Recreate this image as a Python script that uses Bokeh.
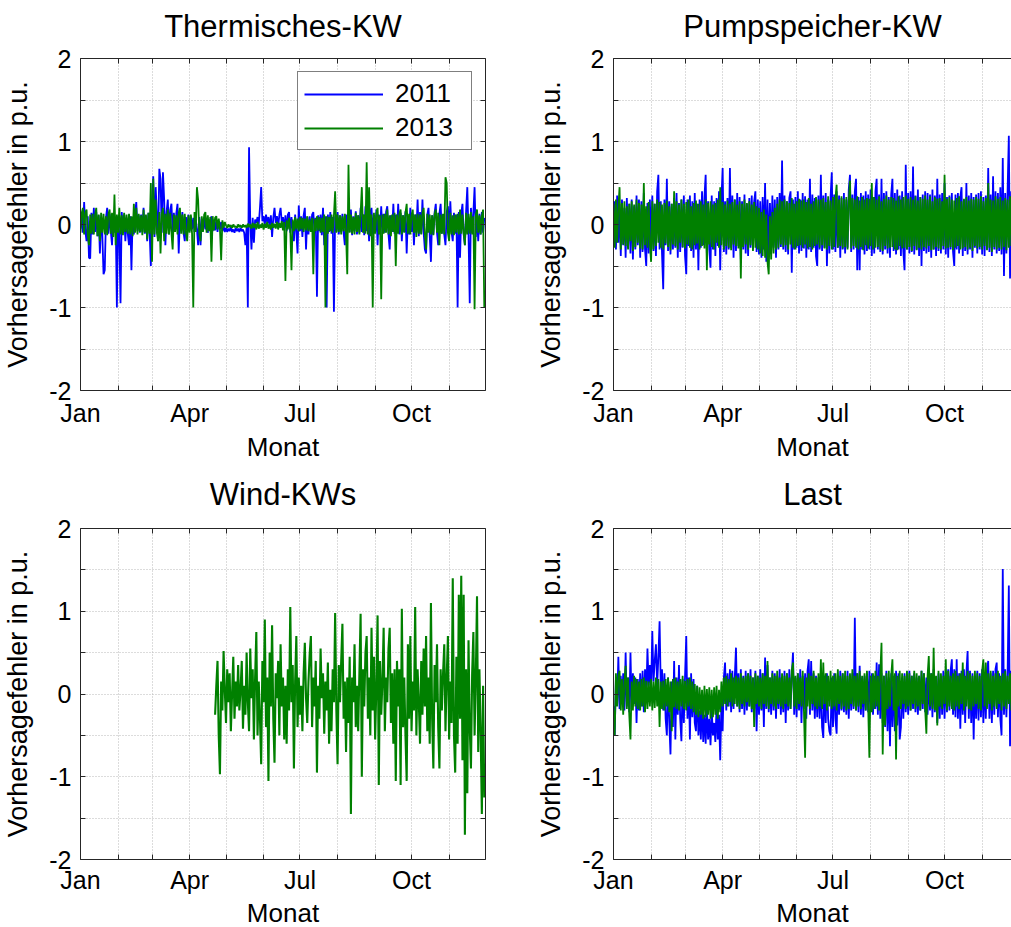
from bokeh.plotting import figure
from bokeh.models import Range1d, FixedTicker, LinearAxis, Legend, LegendItem
from bokeh.layouts import gridplot
from bokeh.embed import file_html
from bokeh.resources import INLINE

# ---------------- data (values in 1/100 p.u., one value per day) ----------------
month_starts = [0, 31, 59, 90, 120, 151, 181, 212, 243, 273, 304]
month_names = {0: "Jan", 90: "Apr", 181: "Jul", 273: "Oct"}
y_ticks = [-2, -1.5, -1, -0.5, 0, 0.5, 1, 1.5, 2]
y_names = {-2: "-2", -1: "-1", 0: "0", 1: "1", 2: "2"}
series_labels = ["2011", "2013"]

thermisch_2011 = [
    -5, 12, -10, 27, -8, -20, 10, -40, -41, 14,
    -12, 20, -9, 15, -14, 11, -35, 9, -13, -60,
    -55, 8, 20, -11, 13, -8, -25, 12, -10, 9,
    -100, 10, -12, -95, 15, -9, 12, -20, 8, -11,
    -25, 10, -55, 9, -12, 13, 27, -8, 11, -10,
    12, -9, 20, -11, 10, -20, 14, -8, -50, 20,
    58, -15, 45, 12, -20, 67, 55, -10, 63, 30,
    -25, 15, 30, -12, 18, 25, -10, 14, -9, 13,
    25, -35, 11, -8, 15, -10, -20, 9, -7, 12,
    -8, 10, -6, 8, -9, 7, -5, -25, 9, -25,
    7, -8, 9, -6, 8, -10, 6, -7, 10, -8,
    6, -7, 5, -9, 4, -6, 3, -8, -2, -9,
    -4, -9, -5, -8, -3, -9, -6, -10, -4, -8,
    -5, -9, -4, -8, -6, -10, -25, -3, -100, 93,
    3, -30, 8, -22, 6, 2, 9, 0, 20, 45,
    4, 10, 0, 12, 2, 9, -3, 11, -15, 8,
    20, 2, 10, -4, 12, 20, 3, 9, -6, 11,
    -8, 12, 15, -10, 9, -7, -20, 12, -9, -35,
    23, -8, 10, -15, 11, 20, -30, 9, -12, 10,
    -9, 12, 15, -10, 8, -87, 11, -8, 12, -13,
    20, -25, 10, -100, 12, -9, 15, -11, 9, -105,
    10, -8, 15, -12, 11, -9, 13, -10, -25, 12,
    -11, 14, -9, 18, -13, 10, -8, 16, -12, 11,
    -10, 20, -9, 12, -13, 22, -8, 11, -20, 14,
    20, -12, 10, -9, 18, -25, 12, -10, 22, -11,
    13, -10, 15, 22, -12, -30, 11, -9, 25, -11,
    12, -10, 25, -12, 14, -20, 11, -9, 16, -35,
    10, -12, 20, -9, 13, -25, 12, -10, 30, -14,
    15, -11, 30, -10, -30, -35, 12, 20, -13, -45,
    11, -12, 14, 25, -10, -25, 13, 25, -11, 12,
    -12, -25, 15, 22, -10, 28, -9, -20, 14, -11,
    12, -100, 15, -40, 13, 25, -12, -25, 16, 45,
    -12, -95, 20, -10, 14, 45, -15, 12, -20, 13,
    -12, 15, -10, 8,
]

thermisch_2013 = [
    -10, 14, 20, -12, 15, 18, -13, -25, 12, -11,
    13, -12, 11, 20, -14, 12, -20, 14, -10, 13,
    -12, 10, -13, 12, 18, -11, 14, -15, 36, -25,
    12, -10, 20, -12, 11, -13, 14, -9, 12, -11,
    13, -12, 10, -14, 25, -10, 20, -12, 13, -9,
    11, -13, 18, -10, 12, -18, 14, -11, 50, -45,
    55, -12, 30, -10, -20, 15, -35, 12, 20, -20,
    13, -11, 18, -12, 14, -10, -30, 12, -9, 11,
    -12, 14, 20, -11, 12, -12, 13, -10, -20, 11,
    -10, 12, -11, -100, 15, -9, 45, 30, -12, -20,
    10, -9, 12, 15, -10, 11, -8, 9, -45, 10,
    -7, 8, 10, -6, 7, -5, -43, 5, -4, 3,
    -1, -4, 0, -3, -1, -4, 0, -3, -2, -4,
    0, -3, -1, -4, 0, -3, -1, -4, 1, -3,
    0, -5, 2, -4, 1, -6, 3, -5, 0, -4,
    2, -6, 1, -4, 3, -5, 0, -6, 2, -4,
    1, -5, 3, -6, 2, -4, 4, -7, 3, -68,
    5, -6, 8, -7, -55, 6, -8, 9, -6, 7,
    -8, 9, -6, 8, -9, 7, -7, 10, -8, 6,
    -9, 8, -60, 7, -8, 10, -7, 9, -10, 8,
    -9, 12, -100, 10, -11, 9, -8, 12, -10, 11,
    40, -10, 12, -9, 11, -12, 10, -8, 13, -11,
    -60, 72, -10, 12, -11, 9, -12, 14, -9, 11,
    -12, 13, 45, -10, 12, -11, 75, -12, 45, -14,
    12, -100, 14, -11, 13, 20, -12, 11, -90, 12,
    -11, 13, -10, 18, -12, 11, -14, 12, -9, 14,
    -50, 12, -11, 13, 18, -12, 11, -10, 14, 25,
    -11, 13, -12, 11, 18, -10, 12, -15, 13, -11,
    12, -12, 14, 20, -11, -30, 13, -10, 12, -12,
    11, -13, 12, 18, -10, 14, -25, 12, -11, 13,
    -12, 57, 50, -10, -20, 14, -12, 11, -13, 12,
    -10, 13, -12, 18, -11, 12, -10, -25, 14, -12,
    13, -11, 15, -12, 10, -102, 12, 18, -10, 11,
    -12, 10, 18, -100,
]

pump_2011 = [
    -20, 28, -30, 35, -22, 25, -38, 30, -25, 20,
    -40, 32, -28, 25, -35, 30, -42, 22, -30, 35,
    -25, 30, -40, 28, -33, 38, -30, -50, 26, -35,
    30, -28, 35, -32, 25, -38, 40, 60, -30, 28,
    -35, -78, 30, -25, 55, -32, 28, -36, 25, -30,
    32, -28, 38, -40, 26, -33, 30, -28, 35, -38,
    -60, 30, -26, 35, -32, 28, -40, 38, -30, 25,
    -55, 30, -28, 40, -25, 33, 60, -35, 28, -30,
    -52, 35, -30, 28, -38, 32, -26, 40, -55, 30,
    68, -33, 28, -36, 32, -30, 68, -28, 35, -40,
    30, -32, 38, -26, 33, -42, 28, -30, 36, -35,
    25, -38, 32, -28, 35, -30, 28, 40, -33, 30,
    -36, 28, -40, 33, -30, 50, -45, 30, -38, 26,
    -32, 35, -28, 30, -40, 33, -30, 38, -27, 77,
    -30, 35, -33, 28, -36, 32, 40, -58, 30, -30,
    33, -28, 40, -35, 30, -32, 38, -29, 34, -40,
    30, -30, 55, -33, 36, -28, 32, -38, -50, 35,
    -30, 60, -32, 35, -28, 38, -50, 30, -35, 33,
    63, -30, 36, -33, 40, -28, 35, -40, 32, -30,
    38, -35, 30, -28, 42, 60, -33, 36, -30, 40,
    55, -55, 33, -55, 38, -30, 35, -36, 40, -32,
    36, -30, 42, -38, 33, -35, 40, 55, -30, 36,
    -33, 55, -36, 38, -30, 40, -35, 33, -40, 36,
    55, -32, 38, -36, 42, -30, 35, -38, 40, -33,
    -55, 72, -30, 38, -35, 40, -33, 70, -36, 35,
    -30, 42, -38, 33, -50, 36, -32, 40, -35, 38,
    -33, 36, -40, 42, -30, 35, -38, 55, -32, 36,
    -35, 38, -30, 50, -36, 33, -40, 35, -30, 38,
    -33, -50, 36, -30, 38, -35, 33, 45, -38, 30,
    -32, 50, -36, 35, -30, 38, -40, 33, -28, 36,
    -35, 38, -30, 40, -36, 33, -38, 35, -30, 68,
    -33, 36, -38, 58, -30, 40, -35, 38, -32, 45,
    -36, 80, -62, 38, -35, 42, 107, -65, 40, -35,
    38, -40, 33, -30,
]

pump_2013 = [
    25, -28, 30, -22, 20, 45, -30, 26, -24, 28,
    -26, 22, -30, 25, -20, 28, -32, 24, -27, 30,
    -22, 26, -29, 24, -30, 50, -25, 22, -28, 27,
    -24, -45, 28, -30, 25, -26, 30, -22, 27, -28,
    24, -30, 26, -23, 29, -27, 22, -31, 25, -24,
    40, -26, 28, -30, 24, -22, 30, -27, 25, -29,
    27, -24, 30, -28, 22, -30, 26, -25, 29, -23,
    25, -30, 28, -26, 24, -29, 30, -55, 26, -24,
    28, -27, 24, -30, 26, -22, 30, -28, 45, -25,
    27, -30, 24, -26, 29, -28, 25, -31, 27, -24,
    30, -26, 24, -29, 28, -65, 25, -27, 30, -24,
    26, -30, 28, -25, 24, -32, 27, -28, 22, -30,
    20, -35, 15, -38, 18, -40, 12, -45, -60, 10,
    -42, 15, -35, 20, -30, 25, -28, 30, -24, 28,
    -27, 30, -25, 28, -30, 26, -24, 32, -28, 25,
    -30, 28, -26, 31, -25, 29, -28, 30, -24, 27,
    -29, 32, -27, 25, -30, 28, -26, 33, -24, 30,
    -28, 30, -25, 32, -29, 27, -30, 34, -26, 29,
    -30, 33, -27, 31, 48, -28, 30, -26, 34, -29,
    31, -27, 33, -30, 28, 53, -29, 32, -26, 30,
    -28, 34, -30, 29, -27, 33, -31, 30, -25, 32,
    -29, 31, -26, 50, -30, 33, -28, 30, -27, 34,
    -30, 28, -32, 31, -26, 35, -29, 30, -28, 33,
    -27, 32, -30, 29, -31, 34, -26, 30, -29, 33,
    -28, 35, -30, 31, -27, 33, -32, 30, -26, 34,
    -31, 29, -28, 33, -30, 31, -27, 35, -29, 30,
    -26, 34, -31, 28, -30, 33, -27, 31, -29, 32,
    -30, 28, -26, 60, -29, 31, -28, 33, -27, 30,
    -31, 29, -28, 32, -26, 34, -30, 28, -29, 31,
    -27, 33, -30, 29, -28, 31, -32, 30, -26, 33,
    -29, 31, -27, 34, -30, 28, -26, 32, -31, 50,
    -28, 30, -33, 29, -27, 34, -30, 31, -28, 33,
    -30, 29, -27, 32, -31, 30, -28, 34, -26, 31,
    -29, 33, -30, 28,
]

wind_start_day = 111
wind_2013 = [
    -25, 10, 40, -50, -97, 15, -20, 52, 5, -35,
    30, -10, 25, -45, 0, 45, -30, 15, -15, 35,
    -20, 5, 40, -42, 10, -25, 50, -10, -45, 55,
    -5, 30, -55, 20, 75, -50, 15, -30, -85, 40,
    -10, 90, -40, 20, -105, 50, -15, 83, -30, -83,
    25, -5, 40, -50, 60, -15, 20, -55, 10, -60,
    30, -20, 105, -10, 35, -90, 15, 70, -40, 20,
    -25, 10, -45, 25, 62, -5, -35, 15, 48, 70,
    -40, 20, -15, 40, -95, 10, -30, 55, -5, 25,
    -48, 15, -20, 38, -60, 5, -45, 30, -10, 98,
    -20, -85, 35, -10, 40, 85, -30, 15, -70, 20,
    -35, 45, -145, 20, -10, 60, -40, 10, -45, 25,
    97, -100, 30, -15, 50, 70, -30, 20, -50, 80,
    -20, 45, -55, 10, 95, -110, 40, -25, 15, 80,
    -45, 20, -10, 55, 80, -35, 25, -60, 30, -105,
    40, -15, 30, -110, 103, -40, 20, -50, -105, 60,
    -30, 70, -45, 15, -20, 105, -50, 30, -10, -60,
    40, -25, 55, -15, 70, -45, 20, -60, 110, -30,
    -90, 35, -10, 60, -40, -90, 30, -20, 25, 60,
    -45, 20, 70, -55, 15, -35, 140, -50, -95, 45,
    -60, 120, -30, 143, -80, 120, -170, 30, -120, 65,
    -40, -90, 25, 75, -50, 20, 118, -70, 30, -45,
    -145, 10, -125,
]

last_2011 = [
    -15, -50, 20, -12, 45, -18, 22, -10, 25, -20,
    50, -15, 20, -22, 50, -18, 25, -12, 20, -35,
    18, -20, 25, -15, 28, -22, 30, -8, 55, 10,
    35, 5, 76, 15, 40, 60, 10, 45, 88, 5,
    30, -20, 25, -30, -50, 20, -35, -73, 15, -40,
    40, -55, 20, -25, 35, -30, -57, 18, -35, 22,
    70, -30, 20, -55, 25, -28, 18, -35, -45, 10,
    -50, -20, -55, -10, -58, -25, -60, -15, -55, -30,
    -62, -20, -50, -35, -58, -15, -55, -25, -80, -10,
    -45, 20, 38, -20, 25, -15, 30, -22, 28, -18,
    20, 56, -15, 25, -22, 30, -18, 22, -25, 28,
    -20, 25, -15, 30, -22, 20, -18, 28, -45, 22,
    -25, 30, -20, 25, -40, 44, -18, 35, -22, 20,
    -25, 28, -20, 25, -30, 22, -18, 30, -25, 20,
    -22, 28, -35, 25, -20, 30, -18, 22, 50, -25,
    20, -28, 25, -20, 30, -35, 22, -18, 25, -30,
    28, 42, -25, 40, -20, 25, -30, 22, -28, 20,
    -30, 25, -40, -53, 22, -35, 25, -30, -45, -50,
    20, -40, 25, -30, -48, 22, -25, 28, -20, 25,
    -22, 20, -25, 28, -30, 22, -20, 25, -18, 92,
    -20, 25, -22, 34, -25, 20, -28, 22, -20, 25,
    -22, 28, -20, 25, -25, 22, -18, 38, -25, 36,
    -30, 25, -35, 22, -40, 28, -45, 20, -63, 25,
    -40, 22, -45, 28, -38, 25, -55, -40, 20, -30,
    25, -22, 20, -25, 28, -20, 22, -18, 25, -22,
    20, -25, 22, -20, 28, -18, 25, -22, 20, -25,
    22, -20, 25, -28, 30, -22, 20, -35, 25, -30,
    22, -25, 28, -30, 25, -22, 30, -20, 28, 42,
    -25, 30, -28, 42, -30, 25, -42, 28, -25, 30,
    -35, 25, 52, -30, 28, -35, 25, -55, 22, -30,
    28, -32, 25, -28, 30, -35, 22, -30, 28, 40,
    -30, 25, -35, 28, -25, 30, 38, -28, 25, -30,
    -50, 151, -25, 30, -28, 25, 131, -63, 28, -30,
    25, -28, 30, -22,
]

last_2013 = [
    -20, -50, 25, -15, 22, 28, -20, 18, -25, 15,
    34, -18, 20, -25, -55, 15, -20, 22, -15, 18,
    -18, 15, -20, 18, -15, 20, -22, 16, -18, 15,
    -15, 18, -20, 15, -17, 20, -15, 18, -40, 15,
    -18, 16, -20, 18, -15, 20, -22, 15, -45, 18,
    -16, 20, -18, 15, -20, 18, -15, 22, -18, 16,
    -20, 18, -15, 20, -18, 15, -22, 12, -25, 10,
    -28, 8, -25, 5, -30, 10, -28, 6, -25, 8,
    -30, 5, -28, 8, -25, 10, -30, 5, -22, 15,
    -15, 20, -12, 22, -15, 18, -10, 25, -15, 20,
    -12, 22, -15, 20, -18, 25, -12, 20, -15, 22,
    -10, 25, -15, 22, -18, 20, -40, 25, -12, 22,
    -15, 20, -18, 25, -12, 22, -15, 40, -18, 20,
    -12, 25, -15, 22, -18, 28, -12, 20, -15, 25,
    -18, 22, -12, 25, -15, 20, -18, 28, 38, -15,
    22, -18, 25, -12, 20, -15, 28, -18, -77, 20,
    -15, 25, -18, 22, -12, 28, -15, 20, -18, 25,
    -15, 42, -18, 38, -12, 25, -20, 22, -15, 28,
    -18, 22, -15, 25, -20, 30, -12, 22, -18, 25,
    -15, 28, -20, 22, -18, 25, -12, 30, -15, 22,
    -20, 25, -15, 28, -18, 22, -12, 25, -20, 28,
    -15, -77, 22, -22, 25, -18, 28, -15, 22, -20,
    25, 62, -73, 22, -38, 25, -18, 28, -15, 22,
    42, -20, 25, -79, 22, -15, 28, -18, 25, -12,
    22, -18, 28, -15, 25, -20, 22, -12, 28, -18,
    25, -15, 22, -20, 28, -12, 25, -18, -48, 22,
    46, -15, 25, -18, 56, -20, 22, -38, 28, -15,
    25, -18, 22, -12, 42, -20, 28, -15, 22, -18,
    25, -20, 28, -15, 22, -18, 25, -12, 38, -20,
    22, -15, 28, -18, 25, -20, 22, -15, 28, -12,
    25, -18, 22, -20, 28, 42, -15, 38, -18, 25,
    -12, 28, -20, 22, -15, 25, -18, 28, -12, 22,
    -20, 25, -15, 28, -18, 22, -12, 25, -20, 28,
    -15, 22, -18, 25,
]

# ---------------- styling ----------------
FONT = "Liberation Sans"
BLUE = "#0000ff"
GREEN = "#008000"
AXC = "#262626"
GRIDC = "#b8b8b8"
TICK_FS = "25px"
XLABEL_FS = "26px"
YLABEL_FS = "27px"
TITLE_FS = "31px"


def pu(vals):
    return [v / 100.0 for v in vals]


def days_from(start, vals):
    return list(range(start, start + len(vals)))


def style_axis(ax, ticks, names, labelled):
    ax.ticker = FixedTicker(ticks=ticks)
    ax.major_label_overrides = {t: names.get(t, "") for t in ticks}
    ax.axis_line_color = AXC
    ax.axis_line_width = 1
    ax.major_tick_line_color = AXC
    ax.major_tick_in = 5
    ax.major_tick_out = 0
    ax.minor_tick_line_color = None
    ax.major_label_text_font = FONT
    ax.major_label_text_color = "black"
    if labelled:
        ax.major_label_text_font_size = TICK_FS
    else:
        ax.major_label_text_font_size = "0px"
        ax.major_label_standoff = 0


def make_fig(title, xmax, fw, fh, bl, br, bt, bb, right_axis, title_standoff,
             xlab_standoff, xaxis_standoff):
    p = figure(frame_width=fw, frame_height=fh,
               x_range=Range1d(0, xmax), y_range=Range1d(-2, 2),
               min_border_left=bl, min_border_right=br,
               min_border_top=bt, min_border_bottom=bb,
               output_backend="svg", toolbar_location=None,
               background_fill_color="white", border_fill_color="white")
    p.outline_line_color = None

    xa = p.xaxis[0]
    style_axis(xa, month_starts, month_names, True)
    xa.axis_label = "Monat"
    xa.axis_label_text_font = FONT
    xa.axis_label_text_font_size = XLABEL_FS
    xa.axis_label_text_font_style = "normal"
    xa.axis_label_text_color = "black"
    xa.major_label_standoff = xlab_standoff
    xa.axis_label_standoff = xaxis_standoff

    ya = p.yaxis[0]
    style_axis(ya, y_ticks, y_names, True)
    ya.axis_label = "Vorhersagefehler in p.u."
    ya.axis_label_text_font = FONT
    ya.axis_label_text_font_size = YLABEL_FS
    ya.axis_label_text_font_style = "normal"
    ya.axis_label_text_color = "black"
    ya.major_label_standoff = 9
    ya.axis_label_standoff = 13

    # top frame edge with inward ticks; the panel title sits above it
    top = LinearAxis()
    style_axis(top, month_starts, {}, False)
    top.axis_label = title
    top.axis_label_text_font = FONT
    top.axis_label_text_font_size = TITLE_FS
    top.axis_label_text_font_style = "normal"
    top.axis_label_text_color = "black"
    top.axis_label_standoff = title_standoff
    p.add_layout(top, "above")
    if right_axis:
        rt = LinearAxis()
        style_axis(rt, y_ticks, {}, False)
        p.add_layout(rt, "right")

    p.xgrid.ticker = FixedTicker(ticks=month_starts)
    p.ygrid.ticker = FixedTicker(ticks=y_ticks)
    for g in (p.xgrid[0], p.ygrid[0]):
        g.grid_line_color = GRIDC
        g.grid_line_dash = "1 2"
        g.grid_line_width = 1
    return p


LW = 1.8
LW_WIND = 2.1
FULL = 334
RIGHT_MAX = 328.2

p1 = make_fig("Thermisches-KW", FULL, 405, 332, 80, 48, 58, 72, True, 15, 8, 2)
r11 = p1.line(days_from(0, thermisch_2011), pu(thermisch_2011), line_color=BLUE, line_width=LW)
r13 = p1.line(days_from(0, thermisch_2013), pu(thermisch_2013), line_color=GREEN, line_width=LW)
leg = Legend(items=[LegendItem(label=series_labels[0], renderers=[r11]),
                    LegendItem(label=series_labels[1], renderers=[r13])],
             location="top_right", margin=13, padding=6, spacing=3,
             glyph_width=79, glyph_height=24, label_height=24, label_width=70,
             label_standoff=12, label_text_font=FONT, label_text_font_size="26px",
             label_text_color="black",
             border_line_color="black", border_line_width=1,
             background_fill_color="white", background_fill_alpha=1.0)
p1.add_layout(leg)

p2 = make_fig("Pumpspeicher-KW", RIGHT_MAX, 398, 332, 80, 0, 58, 72, False, 15, 8, 2)
p2.line(days_from(0, pump_2011), pu(pump_2011), line_color=BLUE, line_width=LW)
p2.line(days_from(0, pump_2013), pu(pump_2013), line_color=GREEN, line_width=LW)

p3 = make_fig("Wind-KWs", FULL, 405, 331, 80, 48, 64, 69, True, 17, 6, 1)
p3.line(days_from(wind_start_day, wind_2013), pu(wind_2013), line_color=GREEN, line_width=LW_WIND)

p4 = make_fig("Last", RIGHT_MAX, 398, 331, 80, 0, 64, 69, False, 17, 6, 1)
p4.line(days_from(0, last_2011), pu(last_2011), line_color=BLUE, line_width=LW)
p4.line(days_from(0, last_2013), pu(last_2013), line_color=GREEN, line_width=LW)

grid = gridplot([[p1, p2], [p3, p4]], toolbar_location=None)

open("out.html", "w").write(file_html(grid, INLINE))
